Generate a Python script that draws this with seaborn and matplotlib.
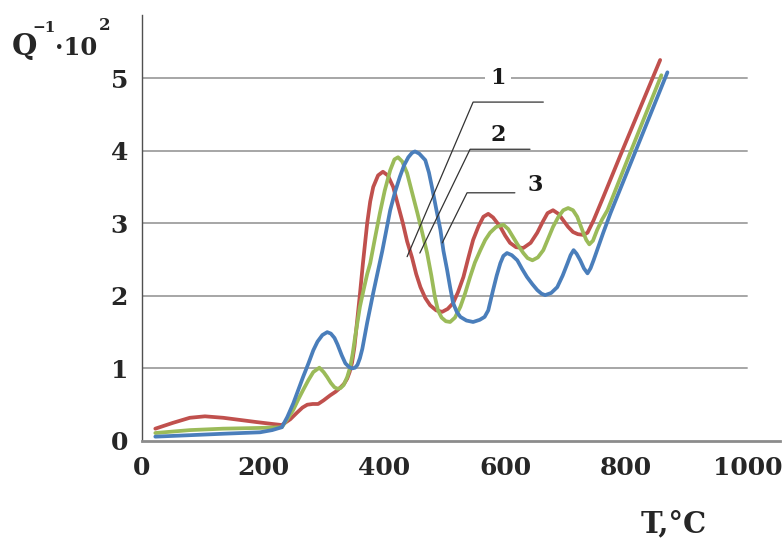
import matplotlib
matplotlib.use("Agg")
import matplotlib.pyplot as plt
import seaborn as sns
import pandas as pd

# ---- data ----
red_x = [22, 51, 79, 104, 134, 162, 190, 215, 231, 245, 256, 265, 273, 282, 291, 300, 311, 320, 327, 334,
         339, 343, 347, 351, 355, 360, 365, 372, 377, 382, 390, 398, 406, 415, 423, 431, 438, 446, 453,
         460, 468, 476, 486, 496, 505, 514, 522, 531, 539, 547, 556, 564, 572, 580, 592, 600, 608, 618,
         630, 642, 653, 662, 670, 679, 688, 696, 704, 712, 720, 729, 736, 746, 762, 790, 823, 856]
red_y = [0.17, 0.25, 0.32, 0.34, 0.32, 0.29, 0.26, 0.235, 0.22, 0.30, 0.39, 0.46, 0.50, 0.51, 0.51, 0.56,
         0.63, 0.68, 0.73, 0.79, 0.86, 0.95, 1.08, 1.30, 1.62, 2.02, 2.45, 3.00, 3.30, 3.50, 3.66, 3.71,
         3.66, 3.50, 3.25, 3.00, 2.75, 2.53, 2.30, 2.12, 1.97, 1.87, 1.80, 1.78, 1.82, 1.90, 2.05, 2.26,
         2.52, 2.77, 2.96, 3.09, 3.13, 3.08, 2.95, 2.83, 2.73, 2.67, 2.66, 2.73, 2.87, 3.02, 3.14, 3.18,
         3.13, 3.04, 2.95, 2.88, 2.85, 2.84, 2.87, 3.04, 3.36, 3.93, 4.59, 5.25]

green_x = [22, 79, 134, 195, 231, 240, 250, 258, 266, 275, 283, 293, 300, 306, 312, 318, 323, 328, 333,
           339, 344, 348, 352, 356, 360, 366, 372, 377, 385, 393, 401, 410, 417, 423, 430, 438, 446, 455,
           463, 471, 478, 484, 489, 495, 502, 509, 517, 526, 534, 542, 550, 559, 567, 575, 585, 597, 605,
           613, 621, 630, 637, 645, 654, 663, 671, 679, 688, 696, 704, 712, 719, 724, 729, 734, 739, 745,
           752, 760, 769, 807, 858]
green_y = [0.11, 0.15, 0.17, 0.18, 0.19, 0.30, 0.43, 0.57, 0.70, 0.84, 0.95, 1.01, 0.95, 0.88, 0.80, 0.74,
           0.72, 0.73, 0.77, 0.88, 1.02, 1.20, 1.43, 1.64, 1.85, 2.08, 2.30, 2.45, 2.80, 3.14, 3.45, 3.73,
           3.88, 3.91, 3.85, 3.69, 3.43, 3.14, 2.87, 2.59, 2.28, 1.98, 1.80, 1.70, 1.65, 1.64, 1.70, 1.85,
           2.04, 2.26, 2.46, 2.63, 2.77, 2.87, 2.95, 2.98, 2.92, 2.81, 2.70, 2.59, 2.52, 2.49, 2.53, 2.63,
           2.79, 2.95, 3.09, 3.18, 3.21, 3.18, 3.09, 2.98, 2.87, 2.77, 2.71, 2.76, 2.91, 3.05, 3.18, 3.98,
           5.04]

blue_x = [22, 79, 134, 195, 215, 231, 240, 250, 258, 266, 275, 283, 290, 298, 306, 312, 318, 323, 330, 336,
          342, 347, 352, 356, 360, 364, 368, 372, 382, 390, 397, 404, 410, 418, 426, 433, 440, 446, 451,
          458, 468, 474, 479, 486, 493, 498, 504, 509, 514, 520, 526, 536, 547, 558, 566, 572, 580, 586,
          592, 597, 603, 611, 620, 628, 636, 645, 653, 660, 666, 676, 686, 695, 703, 708, 713, 718, 724,
          730, 736, 741, 746, 754, 762, 774, 868]
blue_y = [0.06, 0.08, 0.10, 0.12, 0.15, 0.19, 0.33, 0.52, 0.70, 0.88, 1.07, 1.25, 1.37, 1.46, 1.50, 1.48,
          1.42, 1.33, 1.18, 1.07, 1.02, 1.00, 1.01, 1.05, 1.14, 1.27, 1.45, 1.63, 2.04, 2.35, 2.62, 2.92,
          3.18, 3.43, 3.64, 3.80, 3.91, 3.97, 3.99, 3.96, 3.87, 3.70, 3.50, 3.20, 2.91, 2.62, 2.36, 2.12,
          1.90, 1.78, 1.71, 1.66, 1.64, 1.67, 1.71, 1.80, 2.08, 2.28, 2.45, 2.55, 2.59, 2.56, 2.49, 2.37,
          2.26, 2.16, 2.08, 2.03, 2.01, 2.04, 2.12, 2.28, 2.45, 2.56, 2.63, 2.58, 2.49, 2.38, 2.31, 2.38,
          2.49, 2.68, 2.87, 3.14, 5.08]

series_names = ["1", "2", "3"]
x_ticks = [0, 200, 400, 600, 800, 1000]
y_ticks = [0, 1, 2, 3, 4, 5]

# annotation leader lines: label position, horizontal end, elbow, tip (data units)
label_text_pos = [(588, 5.0), (588, 4.22), (650, 3.53)]
leader_h_end = [(663, 4.67), (641, 4.02), (616, 3.42)]
leader_elbow = [(547, 4.67), (542, 4.02), (537, 3.42)]
leader_tip = [(438, 2.54), (459, 2.59), (496, 2.73)]

# ---- build long-form table ----
frames = []
for name, xs, ys in zip(series_names, [red_x, green_x, blue_x], [red_y, green_y, blue_y]):
    frames.append(pd.DataFrame({"T": xs, "Q": ys, "series": name}))
df = pd.concat(frames, ignore_index=True)

sns.set_style("white")
plt.rcParams["font.family"] = ["DejaVu Serif", "Liberation Serif"]
plt.rcParams["font.weight"] = "bold"

W, H = 784, 539
fig = plt.figure(figsize=(W / 100, H / 100), dpi=100)
ax = fig.add_axes([142 / W, 1 - 441 / H, (780 - 142) / W, (441 - 15) / H])

palette = {"1": "#C0504D", "2": "#9BBB59", "3": "#4A7EBB"}

# horizontal gridlines over 0..1000 only
for yv in y_ticks[1:]:
    ax.plot([0, 1000], [yv, yv], color="#a6a6a6", lw=1.4, zorder=1, solid_capstyle="butt")

sns.lineplot(data=df, x="T", y="Q", hue="series", palette=palette, estimator=None,
             sort=False, lw=2.7, legend=False, ax=ax, zorder=3)
for ln in ax.get_lines():
    ln.set_solid_joinstyle("round")
    ln.set_solid_capstyle("round")

ax.set_xlim(0, 1054)
ax.set_ylim(0, 5.87)
ax.set_xticks(x_ticks)
ax.set_yticks(y_ticks)
ax.set_xticklabels([str(v) for v in x_ticks], fontsize=18, fontweight="bold")
ax.set_yticklabels([str(v) for v in y_ticks], fontsize=18, fontweight="bold")
ax.tick_params(axis="x", direction="out", length=4, width=1, color="#b0b0b0", pad=7)
ax.tick_params(axis="y", direction="out", length=5, width=1, color="#808080", pad=5)
ax.set_xlabel("")
ax.set_ylabel("")

for s in ["top", "right"]:
    ax.spines[s].set_visible(False)
ax.spines["left"].set_color("#505050")
ax.spines["left"].set_linewidth(1.0)
ax.spines["bottom"].set_color("#8c8c8c")
ax.spines["bottom"].set_linewidth(2.0)

# leader lines and labels
for i, (name, tp, he, el, tip) in enumerate(zip(series_names, label_text_pos, leader_h_end,
                                               leader_elbow, leader_tip)):
    ax.plot([he[0], el[0], tip[0]], [he[1], el[1], tip[1]], color="#333333", lw=0.9, zorder=4)
    bbox = dict(facecolor="white", edgecolor="none", pad=4) if i == 0 else None
    ax.text(tp[0], tp[1], name, fontsize=16, fontweight="bold", ha="center", va="center",
            color="#1a1a1a", zorder=5, bbox=bbox)


def fx(px):
    return px / W


def fy(py):
    return 1 - py / H


fig.text(fx(12), fy(55), "Q", fontsize=21, fontweight="bold", va="baseline", ha="left")
fig.text(fx(32), fy(32), "\u22121", fontsize=11, fontweight="bold", va="baseline", ha="left")
fig.text(fx(55), fy(55), "\u00b710", fontsize=17.5, fontweight="bold", va="baseline", ha="left")
fig.text(fx(99), fy(30), "2", fontsize=12, fontweight="bold", va="baseline", ha="left")
fig.text(fx(641), fy(532), "T,\u00b0C", fontsize=21, fontweight="bold", va="baseline", ha="left")

fig.savefig("out.png", dpi=100)
